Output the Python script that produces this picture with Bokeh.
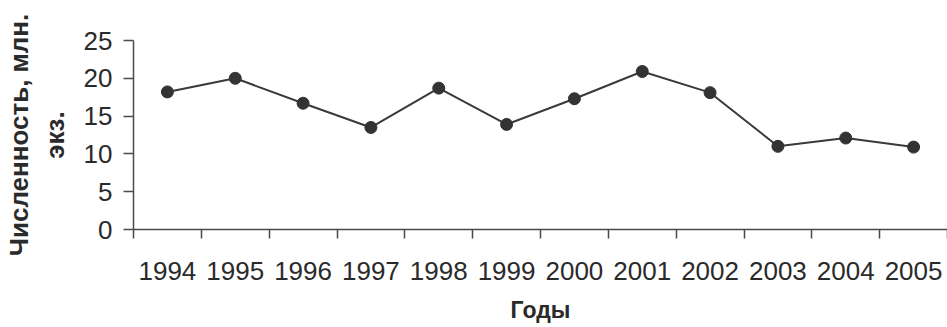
from bokeh.plotting import figure
from bokeh.models import LinearAxis, FixedTicker, Range1d
from bokeh.embed import file_html
from bokeh.resources import INLINE

years = ["1994", "1995", "1996", "1997", "1998", "1999",
         "2000", "2001", "2002", "2003", "2004", "2005"]
values = [18.2, 20.0, 16.7, 13.5, 18.7, 13.9, 17.3, 20.9, 18.1, 11.0, 12.1, 10.9]
y_ticks = [0, 5, 10, 15, 20, 25]
y_title_1 = "Численность, млн."
y_title_2 = "экз."
x_title = "Годы"

n = len(years)
xs = [i + 0.5 for i in range(n)]

FONT = "Liberation Sans"
TXT = "#2a2a2a"
AX = "#4a4a4a"

p = figure(width=947, height=327, x_range=Range1d(0, 12.0), y_range=Range1d(0, 25),
           output_backend="svg", toolbar_location=None,
           min_border_left=133, min_border_right=0, min_border_top=40, min_border_bottom=98)
p.outline_line_color = None
p.grid.visible = False
p.background_fill_color = "white"

p.line(xs, values, line_color="#3a3a3a", line_width=2)
p.scatter(xs, values, size=12, fill_color="#333333", line_color="#333333")

# x axis: labels at centres, tick marks at category boundaries
xa = p.xaxis[0]
xa.ticker = FixedTicker(ticks=xs, minor_ticks=list(range(n + 1)))
xa.major_label_overrides = {x: y for x, y in zip(xs, years)}
xa.major_tick_line_color = None
xa.major_tick_out = 0
xa.major_tick_in = 0
xa.minor_tick_out = 9
xa.minor_tick_in = 0
xa.minor_tick_line_color = AX
xa.minor_tick_line_width = 1.5
xa.axis_line_color = AX
xa.axis_line_width = 1.5
xa.major_label_text_font = FONT
xa.major_label_text_font_size = "26px"
xa.major_label_text_color = TXT
xa.major_label_standoff = 23
xa.axis_label = x_title
xa.axis_label_text_font = FONT
xa.axis_label_text_font_size = "23px"
xa.axis_label_text_font_style = "bold"
xa.axis_label_text_color = TXT
xa.axis_label_standoff = 14

ya = p.yaxis[0]
ya.ticker = FixedTicker(ticks=y_ticks, minor_ticks=[])
ya.major_tick_out = 10
ya.major_tick_in = 0
ya.major_tick_line_color = AX
ya.major_tick_line_width = 1.5
ya.axis_line_color = AX
ya.axis_line_width = 1.5
ya.major_label_text_font = FONT
ya.major_label_text_font_size = "26px"
ya.major_label_text_color = TXT
ya.major_label_standoff = 11
ya.axis_label = y_title_2
ya.axis_label_text_font = FONT
ya.axis_label_text_font_size = "26px"
ya.axis_label_text_font_style = "bold"
ya.axis_label_text_color = TXT
ya.axis_label_standoff = 11

outer = LinearAxis(ticker=FixedTicker(ticks=[]), axis_line_color=None,
                   major_tick_line_color=None, minor_tick_line_color=None,
                   axis_label=y_title_1, axis_label_text_font=FONT,
                   axis_label_text_font_size="26px", axis_label_text_font_style="bold",
                   axis_label_text_color=TXT, axis_label_standoff=3,
                   major_label_standoff=0)
p.add_layout(outer, "left")

open("out.html", "w").write(file_html(p, INLINE))
